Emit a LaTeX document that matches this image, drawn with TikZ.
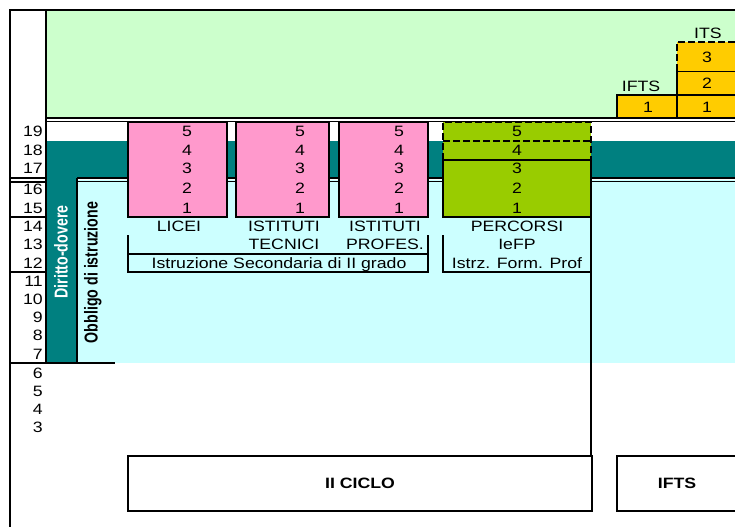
\documentclass[tikz,border=0pt]{standalone}
\usepackage{fontspec}
\setmainfont{Liberation Sans}[FakeStretch=1.18]
\newfontfamily\narrowfont{Liberation Sans}[FakeStretch=0.76]
\usepackage{tikz}
\usetikzlibrary{positioning}

\definecolor{verdino}{HTML}{CCFFCC}
\definecolor{ottanio}{HTML}{008080}
\definecolor{azzurrino}{HTML}{CCFFFF}
\definecolor{rosa}{HTML}{FF99CC}
\definecolor{verdemela}{HTML}{99CC00}
\definecolor{arancio}{HTML}{FFCC00}

\begin{document}
\begin{tikzpicture}[x=0.75pt, y=-0.75pt,
  every node/.style={inner sep=0pt, text height=8pt, text depth=0pt,
                     font=\fontsize{11.25}{13}\selectfont},
  bordo/.style={line width=1.5pt},
  filo/.style={line width=1.2pt},
  tratto/.style={line width=1.6pt, dash pattern=on 5pt off 2.5pt},
  ruota/.style={rotate=90, text height=10pt,
                font=\narrowfont\bfseries\fontsize{14}{16}\selectfont},
  ciclo/.style={font=\bfseries\fontsize{11.25}{13}\selectfont}]
\useasboundingbox (0,0) rectangle (735,526);
\clip (0,0) rectangle (735,526);

% sfondi
\fill[verdino] (46,11) rectangle (740,118);
\fill[ottanio] (46,141) rectangle (740,179);
\fill[ottanio] (46,179) rectangle (77,363);
\fill[azzurrino] (77,180) rectangle (740,363);
\draw[filo] (77,178) -- (740,178);
\draw[filo] (77,181.5) -- (740,181.5);

% secondo ciclo
\foreach \xa/\xb in {128/227, 236/329, 339/428}
  \filldraw[fill=rosa, bordo] (\xa,122) rectangle (\xb,216.5);
\fill[verdemela] (443,122) rectangle (591,216.5);
\draw[bordo] (443,160) -- (443,216.5) -- (591,216.5) -- (591,160) -- cycle;
\draw[tratto] (443,160) -- (443,122) -- (591,122) -- (591,160);
\draw[tratto] (443,141) -- (591,141);

% IFTS / ITS
\filldraw[fill=arancio, bordo] (617,95) rectangle (677,118);
\filldraw[fill=arancio, bordo] (677,95) rectangle (745,118);
\filldraw[fill=arancio, bordo] (677,71) rectangle (745,95);
\fill[arancio] (677,42) rectangle (745,71);
\draw[tratto] (677,71) -- (677,42) -- (745,42);

% cornice e colonna eta
\draw[bordo] (10,530) -- (10,10) -- (740,10);
\draw[bordo] (45.5,10) -- (45.5,363);
\draw[filo] (46,118) -- (740,118);
\draw[filo] (46,121.5) -- (740,121.5);
\draw[filo] (10,178) -- (45,178);
\draw[filo] (10,182) -- (45,182);
\draw[bordo] (10,216.5) -- (45,216.5);
\draw[bordo] (10,272) -- (45,272);
\draw[bordo] (10,363) -- (115,363);
\draw[bordo] (77,178) -- (77,363);

% parentesi
\draw[filo] (128,235) -- (128,272) -- (428,272) -- (428,235);
\draw[filo] (128,254) -- (428,254);
\draw[filo] (443,235) -- (443,272) -- (591,272);
\draw[bordo] (591,216.5) -- (591,456);

% riquadri in basso
\draw[bordo] (128,456) rectangle (592,511);
\draw[bordo] (617,456) rectangle (745,511);
\node[ciclo] (ciclo2) at (360,483) {II CICLO};
\node[ciclo] (iftsbox) at (677,483) {IFTS};

% eta
\foreach \a/\y in {19/131,18/150,17/168,16/189,15/208,14/226,13/244,12/263,
                   11/281,10/299,9/317,8/335,7/354,6/373,5/391,4/409,3/427}
  \node[anchor=east] (eta\a) at (43,\y) {\a};

% anni di corso
\foreach \xc/\nm in {187/licei,300/tecnici,399/profes,517/iefp}
  \foreach \k/\y in {5/131,4/150,3/168,2/188,1/208}
    \node (\nm\k) at (\xc,\y) {\k};

\node (licei) at (179,226) {LICEI};
\node (ist1) at (284,226) {ISTITUTI};
\node[below=5.5pt of ist1] (tecn) {TECNICI};
\node (ist2) at (385,226) {ISTITUTI};
\node[below=5.5pt of ist2] (prof) {PROFES.};
\node (isec) at (279,263) {Istruzione Secondaria di II grado};
\node (perc) at (517,226) {PERCORSI};
\node[below=5.5pt of perc] (iefp) {IeFP};
\node[below=5.5pt of iefp] (istrz) {Istrz. Form. Prof};

\node (iftslbl) at (641,86) {IFTS};
\node (itslbl) at (708,33) {ITS};
\node (ifts1) at (648,107) {1};
\node (its1) at (707,107) {1};
\node (its2) at (707,83) {2};
\node (its3) at (707,57) {3};

\node[ruota, text=white] (diritto) at (61,252) {Diritto-dovere};
\node[ruota] (obbligo) at (91,272.5) {Obbligo di istruzione};
\end{tikzpicture}
\end{document}
